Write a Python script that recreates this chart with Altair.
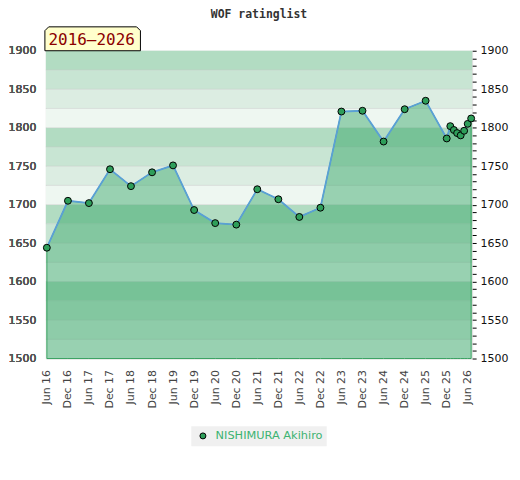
import altair as alt
import pandas as pd

# ---- data ----
dates = ["2016-06-01", "2016-12-01", "2017-06-01", "2017-12-01", "2018-06-01",
         "2018-12-01", "2019-06-01", "2019-12-01", "2020-06-01", "2020-12-01",
         "2021-06-01", "2021-12-01", "2022-06-01", "2022-12-01", "2023-06-01",
         "2023-12-01", "2024-06-01", "2024-12-01", "2025-06-01", "2025-12-01",
         "2026-01-01", "2026-02-01", "2026-03-01", "2026-04-01", "2026-05-01",
         "2026-06-01", "2026-07-01"]
ratings = [1644, 1705, 1702, 1746, 1724, 1742, 1751, 1693, 1676, 1674,
           1720, 1707, 1684, 1696, 1821, 1822, 1782, 1824, 1835, 1786,
           1802, 1797, 1793, 1790, 1796, 1805, 1812]
player = "NISHIMURA Akihiro"
chart_title = "WOF ratinglist"
period_label = "2016\u20132026"

band_starts = list(range(1500, 1900, 25))
band_palette = ["#eef7f1", "#dcede2", "#c8e5d3", "#b2dcc2"]
tick_years = list(range(2016, 2027))

# ---- frames ----
df = pd.DataFrame({"date": dates, "rating": ratings, "player": [player] * len(dates)})
bands = pd.DataFrame({
    "lo": band_starts,
    "hi": [b + 25 for b in band_starts],
    "col": [band_palette[i % 4] for i in range(len(band_starts))],
})
grid = pd.DataFrame({"y": band_starts[1:]})

W, H = 428, 309
yscale = alt.Scale(domain=[1500, 1900], nice=False, zero=False)
xscale = alt.Scale(type="utc", domain=[dates[0], dates[-1]], padding=1)

xvals = []
for yr in tick_years:
    xvals.append(alt.DateTime(year=yr, month=6, date=1, utc=True))
    if yr < 2026:
        xvals.append(alt.DateTime(year=yr, month=12, date=1, utc=True))

xaxis = alt.Axis(
    values=xvals, labelExpr="utcFormat(datum.value, '%b %y')",
    labelAngle=-90, labelAlign="right",
    labelBaseline="middle", labelPadding=11, ticks=False, domain=False, grid=False,
    labelFontSize=11, labelColor="#444444", labelFont="DejaVu Sans", title=None,
    labelOverlap=False, labelFlush=False)
yaxis_left = alt.Axis(
    orient="left", values=list(range(1500, 1901, 50)), format="d", ticks=False,
    domain=False, grid=False, labelFontSize=11, labelColor="#555555",
    labelFont="DejaVu Sans", labelPadding=10, title=None)

band_layer = alt.Chart(bands).mark_rect().encode(
    y=alt.Y("lo:Q", scale=yscale, axis=yaxis_left),
    y2="hi:Q",
    x=alt.value(0),
    x2=alt.value(W),
    fill=alt.Fill("col:N", scale=None),
)

grid_layer = alt.Chart(grid).mark_rule(color="#c8c8c8", opacity=0.45, strokeWidth=1).encode(
    y=alt.Y("y:Q", scale=yscale, axis=yaxis_left),
    x=alt.value(0),
    x2=alt.value(W),
)

area_layer = alt.Chart(df).mark_area(
    color="#2ca25f", fillOpacity=0.44, stroke="#2a9a55", strokeWidth=1, strokeOpacity=0.9
).encode(
    x=alt.X("date:T", scale=xscale, axis=xaxis),
    y=alt.Y("rating:Q", scale=yscale, axis=yaxis_left),
    y2=alt.datum(1500),
)

line_layer = alt.Chart(df).mark_line(color="#5aa0d6", strokeWidth=1.8).encode(
    x=alt.X("date:T", scale=xscale, axis=xaxis),
    y=alt.Y("rating:Q", scale=yscale, axis=yaxis_left),
)

point_layer = alt.Chart(df).mark_point(
    filled=True, size=48, stroke="black", strokeWidth=1, opacity=1, shape="circle"
).encode(
    x=alt.X("date:T", scale=xscale, axis=xaxis),
    y=alt.Y("rating:Q", scale=yscale, axis=yaxis_left),
    fill=alt.Fill("player:N", scale=alt.Scale(range=["#2e9e5a"]), legend=alt.Legend(
        orient="none", legendX=146, legendY=377, direction="horizontal", title=None,
        fillColor="#f0f0f0", padding=4, symbolType="circle", symbolSize=36,
        symbolStrokeColor="black", symbolStrokeWidth=1, labelColor="#3cb371",
        labelFontSize=11.4, labelFont="DejaVu Sans", symbolOffset=2, labelOffset=7)),
)

right_axis = alt.Chart(df).mark_point(opacity=0).encode(
    y=alt.Y("rating:Q", scale=yscale, axis=alt.Axis(
        orient="right", values=list(range(1500, 1901, 10)), format="d",
        labelExpr="datum.value % 50 == 0 ? datum.label : ''",
        tickSize=4, tickColor="black", domain=False, grid=False,
        labelFontSize=11, labelColor="#111111", labelFont="DejaVu Sans",
        labelPadding=4, title=None)),
)

box_path = "M -1 0.25 L -1 -0.17 L -0.92 -0.25 L 0.92 -0.25 L 1 -0.17 L 1 0.25 Z"
period_box = alt.Chart(pd.DataFrame({"t": [period_label]})).mark_point(
    shape=box_path, size=9200, filled=True, fill="#ffffcc", stroke="black", strokeWidth=1,
    opacity=1
).encode(x=alt.value(47), y=alt.value(-12))

period_text = alt.Chart(pd.DataFrame({"t": [period_label]})).mark_text(
    font="DejaVu Sans Mono", fontSize=16, color="#8b0000", align="center", baseline="middle"
).encode(x=alt.value(46), y=alt.value(-10.5), text="t:N")

title_text = alt.Chart(pd.DataFrame({"t": [chart_title]})).mark_text(
    font="DejaVu Sans Mono", fontSize=11.5, fontWeight="bold", color="#333333",
    align="center", baseline="middle"
).encode(x=alt.value(W / 2), y=alt.value(-36), text="t:N")

chart = alt.layer(
    band_layer, grid_layer, area_layer, line_layer, point_layer, right_axis,
    period_box, period_text, title_text
).resolve_scale(y="shared").properties(
    width=W, height=H,
    autosize=alt.AutoSizeParams(type="none"),
    padding={"left": 38, "top": 42, "right": 40, "bottom": 110},
).configure_view(stroke="#cccccc", strokeWidth=1).configure(background="white")

chart.save("out.html", embed_options={"renderer": "svg", "actions": False})
